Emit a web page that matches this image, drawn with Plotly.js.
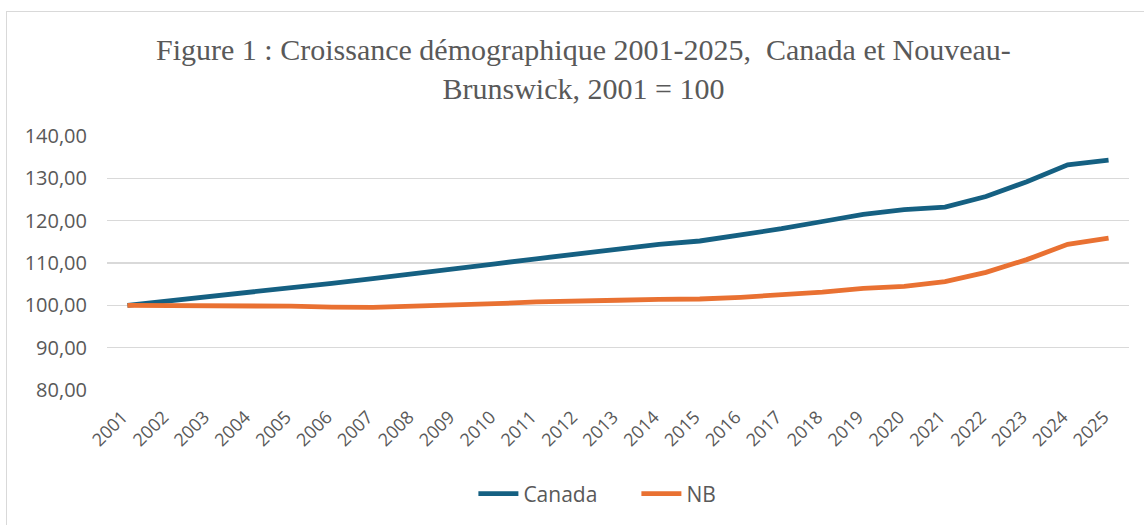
<!DOCTYPE html>
<html>
<head>
<meta charset="utf-8">
<script src="https://cdn.plot.ly/plotly-3.0.1.min.js"></script>
<style>
  html, body { margin: 0; padding: 0; background: #ffffff; }
  #wrap { position: relative; width: 1144px; height: 525px; overflow: hidden; }
  #chart { position: absolute; left: 0; top: 0; width: 1144px; height: 525px; }
  #frame { position: absolute; left: 6px; top: 11px; width: 1200px; height: 600px;
           border: 1px solid #d9d9d9; pointer-events: none; }
</style>
</head>
<body>
<div id="wrap">
  <div id="chart"></div>
  <div id="frame"></div>
</div>
<script>
const years = ["2001","2002","2003","2004","2005","2006","2007","2008","2009","2010",
               "2011","2012","2013","2014","2015","2016","2017","2018","2019","2020",
               "2021","2022","2023","2024","2025"];
const canada = [100.0, 101.0, 102.0, 103.0, 104.2, 105.2, 106.3, 107.4, 108.6, 109.8,
                111.0, 112.2, 113.3, 114.4, 115.2, 116.6, 118.1, 119.8, 121.5, 122.6,
                123.2, 125.7, 129.2, 133.2, 134.3];
const nb = [100.0, 100.0, 100.0, 100.0, 99.8, 99.6, 99.5, 99.8, 100.0, 100.4,
            100.8, 101.1, 101.2, 101.4, 101.5, 101.9, 102.4, 103.1, 104.0, 104.5,
            105.6, 107.8, 110.8, 114.4, 115.9];
const yTicks = [80, 90, 100, 110, 120, 130, 140];
const yTickLabels = ["80,00", "90,00", "100,00", "110,00", "120,00", "130,00", "140,00"];

const sans = "Open Sans, Liberation Sans, sans-serif";

const data = [
  { x: years, y: canada, name: "Canada", type: "scatter", mode: "lines",
    line: { color: "#156082", width: 4.8 } },
  { x: years, y: nb, name: "NB", type: "scatter", mode: "lines",
    line: { color: "#E97132", width: 4.8 } }
];

const layout = {
  width: 1144, height: 525,
  margin: { l: 107, r: 15, t: 136, b: 134 },
  paper_bgcolor: "rgba(0,0,0,0)",
  plot_bgcolor: "#ffffff",
  title: {
    text: "Figure 1 : Croissance démographique 2001-2025,  Canada et Nouveau-<br>Brunswick, 2001 = 100",
    font: { family: "Liberation Serif, serif", size: 30, color: "#595959" },
    x: 0.51, xanchor: "center", xref: "container",
    y: 0.886, yanchor: "middle"
  },
  xaxis: {
    type: "category",
    range: [-0.5, 24.5],
    tickangle: -45,
    tickfont: { family: sans, size: 18, color: "#595959" },
    showgrid: false, zeroline: false, showline: false,
    ticks: "", ticklabelstandoff: 12, ticklabelshift: -5, fixedrange: true
  },
  yaxis: {
    range: [80, 140],
    tickvals: yTicks, ticktext: yTickLabels,
    tickfont: { family: sans, size: 20, color: "#595959" },
    gridcolor: "#d9d9d9", gridwidth: 1.5,
    zeroline: false, showline: false, ticks: "", ticklabelstandoff: 19,
    fixedrange: true
  },
  showlegend: true,
  legend: {
    orientation: "h", x: 0.518, xanchor: "center", y: -0.404, yanchor: "middle",
    font: { family: sans, size: 21, color: "#595959" },
    itemwidth: 40, entrywidth: 108, entrywidthmode: "pixels"
  }
};

Plotly.newPlot("chart", data, layout, { displayModeBar: false, staticPlot: true });
</script>
</body>
</html>
